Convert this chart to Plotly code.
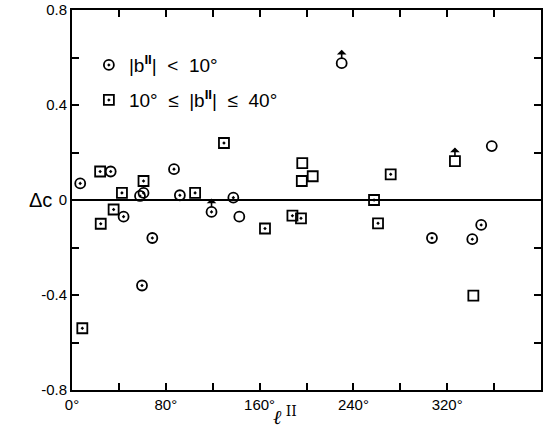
import plotly.graph_objects as go

# |b| < 10 deg (circles)
circ_l = [7, 33, 44, 58, 61, 68.5, 87, 92, 59.7, 119, 137.6, 142.7, 230, 307, 341.4, 349, 358]
circ_dc = [0.07, 0.12, -0.07, 0.017, 0.03, -0.16, 0.13, 0.02, -0.36, -0.05, 0.01, -0.07, 0.576, -0.16, -0.165, -0.105, 0.227]
circ_limit = [False, False, False, False, False, False, False, False, False, True, False, False, True, False, False, False, False]
circ_dot = [True, True, True, True, True, True, True, True, True, True, True, False, False, True, True, True, False]

# 10 <= |b| <= 40 deg (squares)
sq_l = [8.8, 24, 24.5, 35.5, 42.6, 61, 105, 129.6, 164.6, 188, 195.3, 196, 196.4, 205.3, 257.6, 261, 271.8, 326.6, 342.3]
sq_dc = [-0.54, 0.12, -0.10, -0.04, 0.03, 0.08, 0.03, 0.24, -0.12, -0.066, -0.077, 0.08, 0.155, 0.10, 0.0, -0.098, 0.108, 0.164, -0.403]
sq_limit = [False] * 17 + [True, False]
sq_dot = [True, True, True, True, True, True, True, True, True, True, True, False, False, False, True, True, True, False, False]

x_ticks = [0, 40, 80, 120, 160, 200, 240, 280, 320, 360, 400]
x_ticktext = ["0°", "", "80°", "", "160°", "", "240°", "", "320°", "", ""]
y_ticks = [-0.8, -0.6, -0.4, -0.2, 0, 0.2, 0.4, 0.6, 0.8]
y_ticktext = ["-0.8", "", "-0.4", "", "0", "", "0.4", "", "0.8"]

FONT = "Liberation Sans"

fig = go.Figure()
fig.add_trace(go.Scatter(
    x=circ_l, y=circ_dc, mode="markers", name="|b<b><sup>II</sup></b>|  <  10°",
    marker=dict(symbol=["circle-open-dot" if d else "circle-open" for d in circ_dot],
                size=10, color="black", line=dict(color="black", width=1.8)),
    legend="legend",
))
fig.add_trace(go.Scatter(
    x=sq_l, y=sq_dc, mode="markers", name="10°  ≤  |b<b><sup>II</sup></b>|  ≤  40°",
    marker=dict(symbol=["square-open-dot" if d else "square-open" for d in sq_dot],
                size=10, color="black", line=dict(color="black", width=1.8)),
    legend="legend2",
))

annotations = []
for xs, ys, lims in [(circ_l, circ_dc, circ_limit), (sq_l, sq_dc, sq_limit)]:
    for xv, yv, lim in zip(xs, ys, lims):
        if lim:
            annotations.append(dict(
                x=xv, y=yv, xref="x", yref="y", text="", showarrow=True,
                ax=0, ay=-15, arrowside="start", arrowhead=2, arrowsize=0.9,
                arrowwidth=1.6, arrowcolor="black", standoff=5,
            ))

annotations.append(dict(x=-0.095, y=0.5, xref="paper", yref="paper", text="Δc",
                        showarrow=False, font=dict(family=FONT, size=20, color="black")))
annotations.append(dict(x=0.454, y=-0.068, xref="paper", yref="paper",
                        text="<i>ℓ</i><sup> II</sup>", showarrow=False, yanchor="middle",
                        font=dict(family="DejaVu Serif", size=20, color="black")))

axis_common = dict(
    showline=True, linecolor="black", linewidth=2, mirror="ticks",
    ticks="inside", ticklen=7, tickwidth=1.5, tickcolor="black",
    showgrid=False, automargin=False,
    tickfont=dict(family=FONT, size=15, color="black"),
)

fig.update_layout(
    width=560, height=437,
    margin=dict(l=72, r=19, t=10, b=47),
    paper_bgcolor="white", plot_bgcolor="white",
    showlegend=True,
    xaxis=dict(range=[0, 400], tickvals=x_ticks, ticktext=x_ticktext, zeroline=False,
               **axis_common),
    yaxis=dict(range=[-0.8, 0.8], tickvals=y_ticks, ticktext=y_ticktext,
               zeroline=True, zerolinecolor="black", zerolinewidth=1.5,
               **axis_common),
    legend=dict(x=0.036, y=0.855, xanchor="left", yanchor="middle", bgcolor="rgba(0,0,0,0)",
                font=dict(family=FONT, size=19, color="black")),
    legend2=dict(x=0.036, y=0.763, xanchor="left", yanchor="middle", bgcolor="rgba(0,0,0,0)",
                 font=dict(family=FONT, size=19, color="black")),
    annotations=annotations,
)

fig.write_html("out.html", post_script="document.body.style.margin='0';",
               config={"displayModeBar": False})
